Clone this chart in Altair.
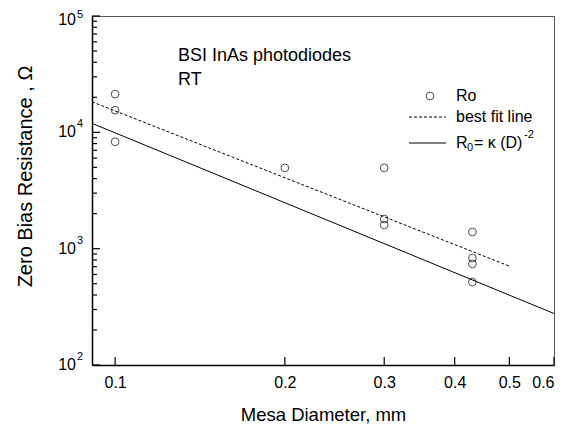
import altair as alt
import pandas as pd

# measured data (Mesa diameter in mm, zero-bias resistance in ohm)
diam = [0.1, 0.1, 0.1, 0.2, 0.3, 0.3, 0.3, 0.43, 0.43, 0.43, 0.43]
res = [21300, 15500, 8300, 4950, 4950, 1800, 1600, 1390, 830, 740, 516]

# best fit line (dashed) end points
fit_d = [0.091, 0.5]
fit_r = [18300, 708]

# R0 = k D^-2 line (solid) end points
mod_d = [0.091, 0.6]
mod_r = [11950, 277]

x_ticks = [0.1, 0.2, 0.3, 0.4, 0.5, 0.6]
y_major = [100, 1000, 10000, 100000]
y_exp = ["2", "3", "4", "5"]
y_minor = [200, 300, 400, 500, 600, 700, 800, 900,
           2000, 3000, 4000, 5000, 6000, 7000, 8000, 9000,
           20000, 30000, 40000, 50000, 60000, 70000, 80000, 90000]

W, H = 462, 349
FONT = "Liberation Sans"

xscale = alt.Scale(type="log", domain=[0.091, 0.6], nice=False)
yscale = alt.Scale(type="log", domain=[100, 100000], nice=False)

xaxis = alt.Axis(values=x_ticks, ticks=False, grid=False, format=".1f",
                 labelFontSize=16, labelPadding=9, labelColor="black",
                 domainColor="black", domainWidth=1.5,
                 title="Mesa Diameter, mm", titleFontSize=18.5,
                 titleFontWeight="normal", titleColor="black",
                 titleBaseline="middle", titleY=49)
yaxis = alt.Axis(values=y_major, ticks=False, grid=False, labels=False,
                 domainColor="black", domainWidth=1.5,
                 title="Zero Bias Resistance , Ω", titleFontSize=20,
                 titleFontWeight="normal", titleColor="black",
                 titleBaseline="middle", titleX=-67, titleY=160)

X = lambda f: alt.X(f, type="quantitative", scale=xscale, axis=xaxis)
Y = lambda f: alt.Y(f, type="quantitative", scale=yscale, axis=yaxis)

pts_df = pd.DataFrame({"d": diam, "r": res})
fit_df = pd.DataFrame({"d": fit_d, "r": fit_r})
mod_df = pd.DataFrame({"d": mod_d, "r": mod_r})
ymaj_df = pd.DataFrame({"v": y_major, "e": y_exp})
ymin_df = pd.DataFrame({"v": y_minor})
xt_df = pd.DataFrame({"v": x_ticks})
one = pd.DataFrame({"a": [0]})

points = alt.Chart(pts_df).mark_point(shape="circle", filled=False, size=60,
                                      stroke="black", strokeWidth=1).encode(
    x=X("d"), y=Y("r"))
fit = alt.Chart(fit_df).mark_line(color="black", strokeWidth=1,
                                  strokeDash=[3, 2]).encode(x=X("d"), y=Y("r"))
mod = alt.Chart(mod_df).mark_line(color="black", strokeWidth=1).encode(
    x=X("d"), y=Y("r"))

ymaj_ticks = alt.Chart(ymaj_df).mark_rule(color="black", strokeWidth=1.2).encode(
    y=Y("v"), x=alt.value(0), x2=alt.value(8))
ymin_ticks = alt.Chart(ymin_df).mark_rule(color="black", strokeWidth=1.2).encode(
    y=Y("v"), x=alt.value(0), x2=alt.value(5))
x_ticks_m = alt.Chart(xt_df).mark_rule(color="black", strokeWidth=1.2).encode(
    x=X("v"), y=alt.value(H), y2=alt.value(H - 8))

# y tick labels "10" with superscript exponent; the top one sits slightly lower
low = "datum.v < 50000"
top = "datum.v > 50000"
ylab10 = alt.Chart(ymaj_df).mark_text(text="10", align="right", baseline="middle",
                                      fontSize=16, color="black").encode(
    y=Y("v"), x=alt.value(-16)).transform_filter(low)
ylabexp = alt.Chart(ymaj_df).mark_text(align="left", baseline="middle",
                                       fontSize=11, dy=-8, color="black").encode(
    y=Y("v"), x=alt.value(-15), text="e:N").transform_filter(low)
ylab10t = alt.Chart(ymaj_df).mark_text(text="10", align="right", baseline="middle",
                                       fontSize=16, dy=4, color="black").encode(
    y=Y("v"), x=alt.value(-16)).transform_filter(top)
ylabexpt = alt.Chart(ymaj_df).mark_text(align="left", baseline="middle",
                                        fontSize=11, dy=-1, color="black").encode(
    y=Y("v"), x=alt.value(-15), text="e:N").transform_filter(top)

def txt(s, x, y, size=16, dy=0):
    return alt.Chart(one).mark_text(text=s, align="left", baseline="middle",
                                    fontSize=size, dy=dy, color="black").encode(
        x=alt.value(x), y=alt.value(y))

ann1 = txt("BSI InAs photodiodes", 86, 40, 18)
ann2 = txt("RT", 86, 64, 18)

leg_pt = alt.Chart(one).mark_point(shape="circle", filled=False, size=60,
                                   stroke="black", strokeWidth=1).encode(
    x=alt.value(338), y=alt.value(80))
leg_dash = alt.Chart(one).mark_rule(color="black", strokeWidth=1,
                                    strokeDash=[3, 2]).encode(
    x=alt.value(317), x2=alt.value(354), y=alt.value(101))
leg_solid = alt.Chart(one).mark_rule(color="black", strokeWidth=1).encode(
    x=alt.value(317), x2=alt.value(354), y=alt.value(127))
lt1 = txt("Ro", 364, 80)
lt2 = txt("best fit line", 364, 101)
lt3a = txt("R", 364, 127)
lt3b = txt("0", 375, 127, 11, 5)
lt3c = txt("= κ (D)", 382, 127)
lt3d = txt("-2", 432, 127, 11, -8)

chart = alt.layer(
    mod, fit, points, ymaj_ticks, ymin_ticks, x_ticks_m,
    ylab10, ylabexp, ylab10t, ylabexpt,
    ann1, ann2, leg_pt, leg_dash, leg_solid, lt1, lt2, lt3a, lt3b, lt3c, lt3d
).properties(
    width=W, height=H,
    autosize=alt.AutoSizeParams(type="none"),
    padding={"left": 84, "top": 8, "right": 18, "bottom": 60},
    background="white",
).configure(font=FONT).configure_view(stroke="#555555", strokeWidth=1)

chart.save("out.html", embed_options={"renderer": "svg", "actions": False})
